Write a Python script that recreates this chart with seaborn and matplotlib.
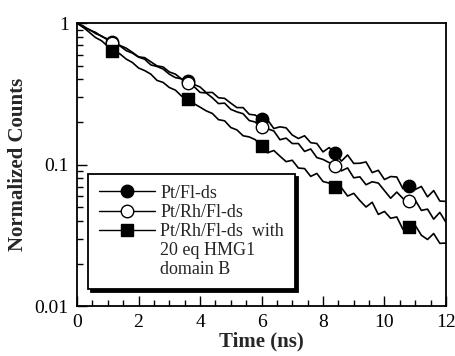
import numpy as np
import pandas as pd
import seaborn as sns
import matplotlib
matplotlib.use("Agg")
import matplotlib.pyplot as plt
from matplotlib.lines import Line2D
from matplotlib.ticker import FixedLocator, LogLocator, MultipleLocator, NullFormatter, FixedFormatter

# ---- data ----
time_ns = np.linspace(0, 12, 61)  # sampling grid, 0.2 ns

pt_fl = [1.000, 0.955, 0.895, 0.861, 0.805, 0.771, 0.723, 0.695, 0.665, 0.622,
         0.578, 0.570, 0.533, 0.499, 0.490, 0.452, 0.436, 0.403, 0.399, 0.369,
         0.354, 0.323, 0.324, 0.297, 0.294, 0.272, 0.253, 0.253, 0.227, 0.224,
         0.207, 0.207, 0.180, 0.185, 0.182, 0.162, 0.153, 0.160, 0.143, 0.141,
         0.123, 0.132, 0.120, 0.106, 0.117, 0.102, 0.1023, 0.1045, 0.0879, 0.0912,
         0.0785, 0.0824, 0.0818, 0.0676, 0.0736, 0.0668, 0.0701, 0.0592, 0.0656, 0.0553,
         0.0550]

pt_rh_fl = [1.000, 0.935, 0.902, 0.845, 0.811, 0.760, 0.715, 0.689, 0.639, 0.614,
            0.575, 0.556, 0.507, 0.494, 0.474, 0.436, 0.412, 0.404, 0.373, 0.357,
            0.324, 0.321, 0.297, 0.270, 0.272, 0.246, 0.236, 0.229, 0.205, 0.200,
            0.178, 0.179, 0.173, 0.150, 0.154, 0.141, 0.141, 0.124, 0.129, 0.1122,
            0.1089, 0.1033, 0.1028, 0.0904, 0.0948, 0.0807, 0.0820, 0.0721, 0.0757, 0.0741,
            0.0655, 0.0579, 0.0640, 0.0577, 0.0520, 0.0561, 0.0475, 0.0485, 0.0412, 0.0460,
            0.0391]

pt_rh_fl_hmg = [1.000, 0.935, 0.861, 0.791, 0.750, 0.685, 0.641, 0.605, 0.557, 0.527,
                0.482, 0.462, 0.436, 0.394, 0.381, 0.351, 0.336, 0.305, 0.296, 0.270,
                0.255, 0.240, 0.230, 0.208, 0.204, 0.183, 0.176, 0.160, 0.157, 0.150,
                0.1346, 0.1214, 0.1259, 0.1148, 0.1050, 0.1074, 0.0946, 0.0938, 0.0826, 0.0867,
                0.0760, 0.0741, 0.0637, 0.0687, 0.0600, 0.0627, 0.0557, 0.0502, 0.0542, 0.0445,
                0.0467, 0.0418, 0.0427, 0.0349, 0.0370, 0.0372, 0.0317, 0.0296, 0.0326, 0.0278,
                0.0279]

marker_time = [1.15, 3.6, 6.0, 8.4, 10.8]
marker_pt_fl = [0.73, 0.39, 0.21, 0.12, 0.071]
marker_pt_rh_fl = [0.72, 0.375, 0.186, 0.098, 0.055]
marker_pt_rh_fl_hmg = [0.64, 0.29, 0.136, 0.069, 0.036]

series_names = ["Pt/Fl-ds", "Pt/Rh/Fl-ds", "Pt/Rh/Fl-ds  with"]
extra_label_lines = ["20 eq HMG1", "domain B"]
x_ticks = [0, 2, 4, 6, 8, 10, 12]
y_ticks = [0.01, 0.1, 1]
y_tick_labels = ["0.01", "0.1", "1"]

# ---- figure ----
sns.set_style("ticks")
plt.rcParams["font.family"] = ["Liberation Serif", "DejaVu Serif"]

fig = plt.figure(figsize=(4.56, 3.56), dpi=100)
ax = fig.add_axes([0.169, 0.140, 0.809, 0.795])

curves = pd.DataFrame({
    "time": np.concatenate([time_ns] * 3),
    "counts": pt_fl + pt_rh_fl + pt_rh_fl_hmg,
    "series": [series_names[0]] * 61 + [series_names[1]] * 61 + [series_names[2]] * 61,
})
for name in series_names:
    sub = curves[curves["series"] == name]
    sns.lineplot(data=sub, x="time", y="counts", color="black", lw=1.2,
                 estimator=None, sort=False, ax=ax, legend=False)

msize = 80
sns.scatterplot(x=marker_time, y=marker_pt_fl, marker="o", s=msize, color="black",
                edgecolor="black", linewidth=1.0, ax=ax, legend=False, zorder=3)
sns.scatterplot(x=marker_time, y=marker_pt_rh_fl, marker="o", s=msize, color="white",
                edgecolor="black", linewidth=1.0, ax=ax, legend=False, zorder=4)
sns.scatterplot(x=marker_time, y=marker_pt_rh_fl_hmg, marker="s", s=msize, color="black",
                edgecolor="black", linewidth=1.0, ax=ax, legend=False, zorder=5)

ax.set_yscale("log")
ax.set_xlim(0, 12)
ax.set_ylim(0.01, 1)
ax.yaxis.set_major_locator(FixedLocator(y_ticks))
ax.yaxis.set_major_formatter(FixedFormatter(y_tick_labels))
ax.yaxis.set_minor_locator(LogLocator(base=10, subs=np.arange(2, 10)))
ax.yaxis.set_minor_formatter(NullFormatter())
ax.xaxis.set_major_locator(FixedLocator(x_ticks))
ax.xaxis.set_minor_locator(MultipleLocator(0.5))

ax.tick_params(which="both", direction="in", top=False, right=False, labelsize=14,
               width=1.0, colors="black", pad=6)
ax.tick_params(which="major", length=7)
ax.tick_params(which="minor", length=4)
for sp in ax.spines.values():
    sp.set_linewidth(1.3)
    sp.set_color("black")

ax.set_xlabel("Time (ns)", fontsize=15, fontweight="bold", labelpad=0)
ax.set_ylabel("Normalized Counts", fontsize=15, fontweight="bold", labelpad=5)

handles = [
    Line2D([], [], color="black", lw=1.0, marker="o", markersize=9,
           markerfacecolor="black", markeredgecolor="black"),
    Line2D([], [], color="black", lw=1.0, marker="o", markersize=9,
           markerfacecolor="white", markeredgecolor="black"),
    Line2D([], [], color="black", lw=1.0, marker="s", markersize=9,
           markerfacecolor="black", markeredgecolor="black"),
    Line2D([], [], color="none", lw=0),
    Line2D([], [], color="none", lw=0),
]
labels = series_names + extra_label_lines
leg = ax.legend(handles, labels, loc="lower left", bbox_to_anchor=(0.03, 0.06),
                fontsize=13, frameon=True, fancybox=False, edgecolor="black",
                handlelength=3.1, handletextpad=0.3, labelspacing=0.12,
                borderpad=0.6, borderaxespad=0,
                shadow={"color": "black", "alpha": 1.0})
leg.get_frame().set_linewidth(1.3)

fig.savefig("out.png", dpi=100)
